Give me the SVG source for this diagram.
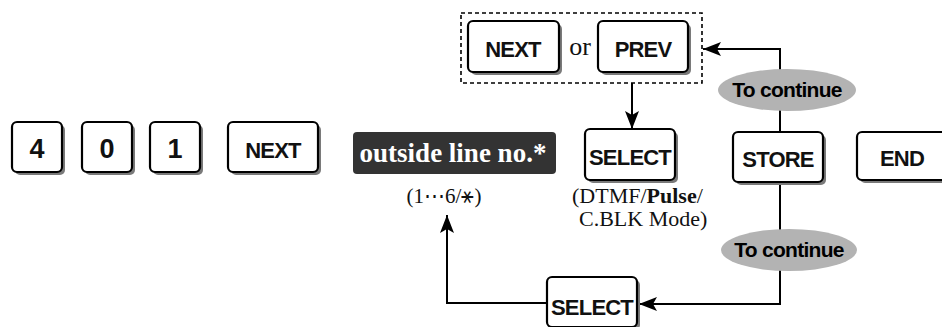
<svg xmlns="http://www.w3.org/2000/svg" width="942" height="327" viewBox="0 0 942 327">
<defs>
<style>
.key{fill:#fff;stroke:#000;stroke-width:2.2}
.sh{fill:#7a7a7a}
.kt{font-family:"Liberation Sans",Arial,sans-serif;font-weight:bold;font-size:22px;text-anchor:middle;fill:#111;letter-spacing:-0.8px}
.dt{font-family:"Liberation Sans",Arial,sans-serif;font-weight:bold;font-size:27px;text-anchor:middle;fill:#111}
.sf{font-family:"Liberation Serif","Times New Roman",serif;fill:#111}
.ln{fill:none;stroke:#000;stroke-width:2}
.ell{fill:#b3b3b3}
.ct{font-family:"Liberation Sans",Arial,sans-serif;font-weight:bold;font-size:21px;text-anchor:middle;fill:#000;letter-spacing:-0.7px}
</style>
<marker id="ah" viewBox="0 0 18 14" refX="18" refY="7" markerWidth="18" markerHeight="14" markerUnits="userSpaceOnUse" orient="auto">
<path d="M0,0 L18,7 L0,14 L4,7 Z" fill="#000"/>
</marker>
</defs>
<rect width="942" height="327" fill="#fff"/>

<g id="connectors">
<rect x="461" y="13" width="241" height="70" fill="none" stroke="#000" stroke-width="1.6" stroke-dasharray="4,3"/>
<line class="ln" x1="632" y1="83" x2="632" y2="129" marker-end="url(#ah)"/>
<polyline class="ln" points="780,132 780,49 703,49" marker-end="url(#ah)"/>
<polyline class="ln" points="780,182 780,304 639,304" marker-end="url(#ah)"/>
<polyline class="ln" points="547,303 447,303 447,215" marker-end="url(#ah)"/>
</g>

<g id="key-4"><rect class="sh" x="15" y="125" width="50" height="50" rx="5"/><rect class="key" x="12" y="122" width="50" height="50" rx="5"/><text class="dt" x="37" y="158">4</text></g>
<g id="key-0"><rect class="sh" x="85" y="125" width="50" height="50" rx="5"/><rect class="key" x="82" y="122" width="50" height="50" rx="5"/><text class="dt" x="107" y="158">0</text></g>
<g id="key-1"><rect class="sh" x="153" y="125" width="50" height="50" rx="5"/><rect class="key" x="150" y="122" width="50" height="50" rx="5"/><text class="dt" x="175" y="158">1</text></g>
<g id="key-next"><rect class="sh" x="231" y="125" width="90" height="50" rx="5"/><rect class="key" x="228" y="122" width="90" height="50" rx="5"/><text class="kt" x="273" y="158">NEXT</text></g>

<g id="outside-line">
<rect x="353" y="132" width="203" height="42" rx="4" fill="#333"/>
<text x="453" y="162" text-anchor="middle" font-family="Liberation Serif,'Times New Roman',serif" font-weight="bold" font-size="27" fill="#fff">outside line no.*</text>
<text class="sf" x="444" y="203" text-anchor="middle" font-size="21">(1⋯6/⚹)</text>
</g>

<g id="key-next-top"><rect class="sh" x="471" y="24" width="91" height="51" rx="5"/><rect class="key" x="468" y="21" width="91" height="51" rx="5"/><text class="kt" x="513" y="57">NEXT</text></g>
<text class="sf" x="580" y="55" text-anchor="middle" font-size="26">or</text>
<g id="key-prev"><rect class="sh" x="601" y="24" width="90" height="51" rx="5"/><rect class="key" x="598" y="21" width="90" height="51" rx="5"/><text class="kt" x="643" y="57">PREV</text></g>

<g id="key-select"><rect class="sh" x="588" y="132" width="90" height="51" rx="5"/><rect class="key" x="585" y="129" width="90" height="51" rx="5"/><text class="kt" x="630" y="165">SELECT</text></g>
<g id="select-note">
<text class="sf" x="572" y="203" font-size="22">(DTMF/<tspan font-weight="bold">Pulse</tspan>/</text>
<text class="sf" x="579" y="226" font-size="22">C.BLK Mode)</text>
</g>

<g id="key-store"><rect class="sh" x="736" y="135" width="90" height="50" rx="5"/><rect class="key" x="733" y="132" width="90" height="50" rx="5"/><text class="kt" x="778" y="167">STORE</text></g>
<g id="key-end"><rect class="sh" x="860" y="135" width="90" height="48" rx="5"/><rect class="key" x="857" y="132" width="90" height="48" rx="5"/><text class="kt" x="902" y="166">END</text></g>

<g id="to-continue-top"><ellipse class="ell" cx="787" cy="90" rx="69" ry="21"/><text class="ct" x="787" y="97">To continue</text></g>
<g id="to-continue-bottom"><ellipse class="ell" cx="789" cy="250" rx="68" ry="21"/><text class="ct" x="789" y="257">To continue</text></g>

<g id="key-select-bottom"><rect class="sh" x="550" y="280" width="90" height="50" rx="5"/><rect class="key" x="547" y="277" width="90" height="50" rx="5"/><text class="kt" x="592" y="315">SELECT</text></g>
</svg>
